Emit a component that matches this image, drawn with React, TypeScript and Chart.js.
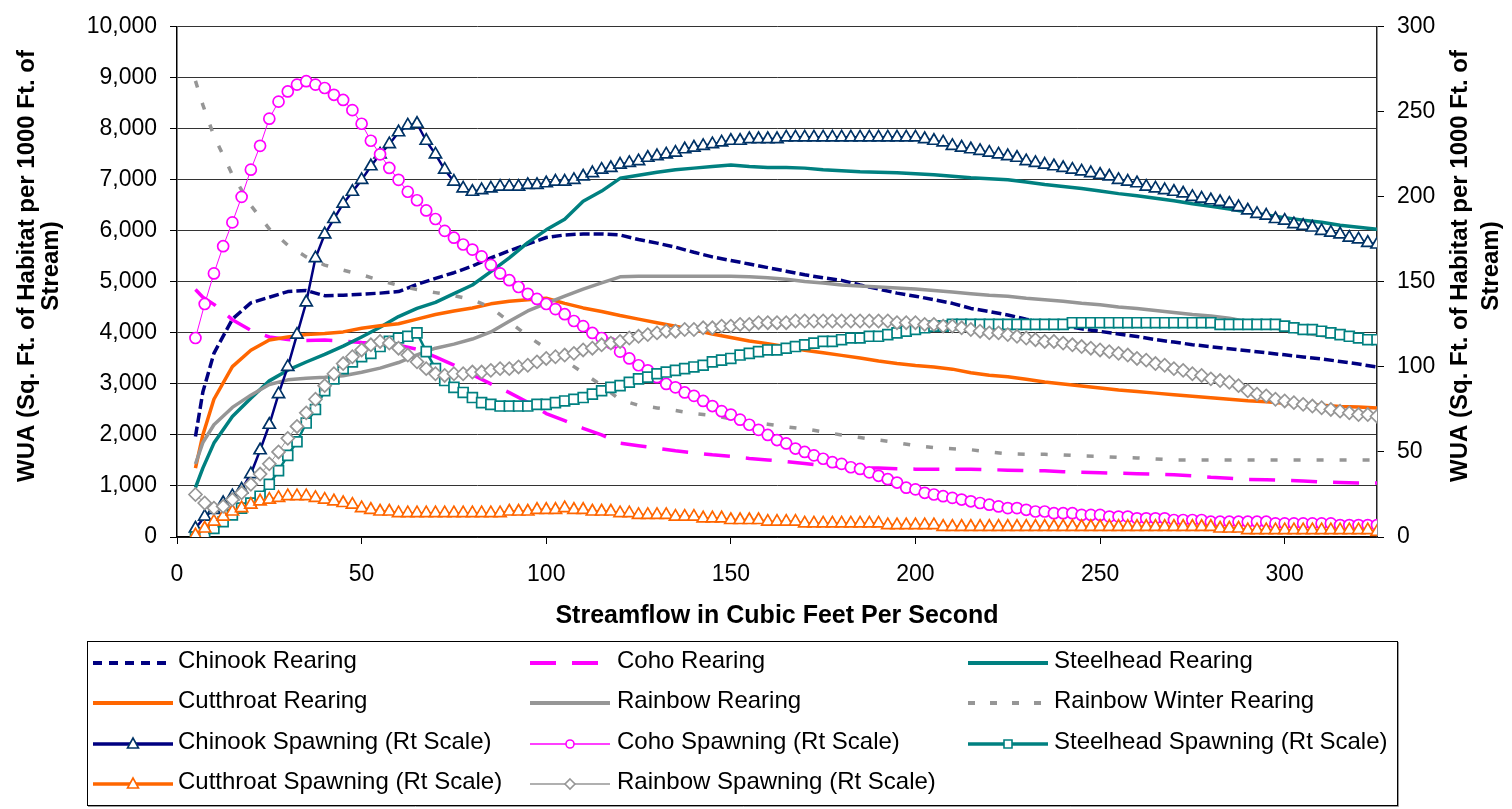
import React, { useEffect, useRef } from 'react';
import { Chart, registerables } from 'chart.js';

Chart.register(...registerables);

// ---------------- DATA ----------------
// Streamflow (cfs) for the rearing curves (left axis, WUA sq ft / 1000 ft)
const rearingFlows = [
  5, 7, 10, 15, 20, 25, 30, 35, 40, 45,
  50, 55, 60, 65, 70, 75, 80, 85, 90, 95,
  100, 105, 110, 115, 120, 125, 130, 135, 140, 145,
  150, 155, 160, 165, 170, 175, 180, 185, 190, 195,
  200, 205, 210, 215, 220, 225, 230, 235, 240, 245,
  250, 255, 260, 265, 270, 275, 280, 285, 290, 295,
  300, 305, 310, 315, 320, 325,
];

const chinookRearing = [
  1970, 2840, 3600, 4270, 4590, 4700, 4810, 4830, 4730, 4740,
  4760, 4780, 4810, 4950, 5070, 5180, 5310, 5470, 5610, 5740,
  5870, 5920, 5940, 5940, 5920, 5830, 5760, 5680, 5580, 5490,
  5420, 5350, 5280, 5210, 5140, 5080, 5030, 4940, 4860, 4780,
  4720, 4650, 4580, 4480, 4420, 4350, 4270, 4200, 4140, 4080,
  4030, 3980, 3930, 3870, 3820, 3770, 3730, 3690, 3650, 3610,
  3570, 3530, 3490, 3440, 3390, 3330,
];

const cohoRearing = [
  4850, 4700, 4560, 4260, 4050, 3920, 3870, 3850, 3860, 3840,
  3810, 3790, 3760, 3680, 3530, 3370, 3180, 3000, 2830, 2640,
  2420, 2280, 2130, 2000, 1840, 1790, 1740, 1690, 1650, 1610,
  1580, 1540, 1510, 1480, 1440, 1400, 1380, 1360, 1350, 1340,
  1330, 1330, 1330, 1330, 1320, 1310, 1300, 1300, 1280, 1270,
  1260, 1250, 1240, 1230, 1220, 1200, 1170, 1150, 1130, 1120,
  1110, 1100, 1080, 1070, 1060, 1060,
];

const steelheadRearing = [
  970, 1350, 1840, 2360, 2720, 3060, 3270, 3430, 3580, 3740,
  3920, 4110, 4320, 4480, 4600, 4770, 4940, 5200, 5470, 5770,
  6020, 6230, 6580, 6780, 7030, 7090, 7150, 7200, 7230, 7260,
  7290, 7260, 7240, 7240, 7230, 7200, 7180, 7160, 7150, 7140,
  7120, 7100, 7070, 7040, 7020, 7000, 6960, 6910, 6870, 6830,
  6780, 6730, 6690, 6640, 6590, 6530, 6480, 6430, 6370, 6310,
  6260, 6210, 6170, 6110, 6070, 6030,
];

const cutthroatRearing = [
  1350, 2000, 2700, 3340, 3660, 3860, 3920, 3970, 3990, 4020,
  4090, 4140, 4180, 4270, 4360, 4430, 4490, 4570, 4620, 4650,
  4680, 4580, 4490, 4420, 4340, 4270, 4200, 4130, 4060, 3980,
  3910, 3840, 3790, 3730, 3660, 3610, 3560, 3510, 3450, 3400,
  3360, 3330, 3290, 3220, 3170, 3140, 3090, 3040, 3000, 2960,
  2920, 2880, 2850, 2820, 2790, 2760, 2730, 2700, 2670, 2650,
  2620, 2600, 2580, 2560, 2550, 2530,
];

const rainbowRearing = [
  1430, 1850, 2200, 2540, 2780, 2990, 3080, 3110, 3130, 3160,
  3230, 3310, 3420, 3570, 3700, 3780, 3880, 4020, 4230, 4430,
  4580, 4720, 4860, 4980, 5100, 5110, 5110, 5110, 5110, 5110,
  5110, 5100, 5080, 5050, 5010, 4980, 4940, 4920, 4900, 4880,
  4860, 4830, 4800, 4770, 4740, 4720, 4680, 4650, 4620, 4580,
  4550, 4510, 4480, 4440, 4400, 4360, 4330, 4290, 4220, 4130,
  4060, 4000, 3950, 3910, 3880, 3850,
];

const rainbowWinterRearing = [
  8940, 8470, 7860, 7100, 6500, 6040, 5720, 5490, 5330, 5230,
  5140, 5030, 4930, 4850, 4790, 4730, 4650, 4500, 4220, 3940,
  3690, 3460, 3220, 2970, 2690, 2580, 2530, 2480, 2420, 2380,
  2320, 2260, 2210, 2160, 2120, 2060, 2000, 1950, 1900, 1850,
  1790, 1750, 1730, 1710, 1670, 1630, 1620, 1620, 1610, 1590,
  1580, 1560, 1550, 1530, 1510, 1510, 1510, 1510, 1510, 1510,
  1510, 1510, 1510, 1510, 1510, 1510,
];

// Streamflow (cfs) for the spawning curves (right axis)
const spawningFlows = [
  5, 7.5, 10, 12.5, 15, 17.5, 20, 22.5, 25, 27.5,
  30, 32.5, 35, 37.5, 40, 42.5, 45, 47.5, 50, 52.5,
  55, 57.5, 60, 62.5, 65, 67.5, 70, 72.5, 75, 77.5,
  80, 82.5, 85, 87.5, 90, 92.5, 95, 97.5, 100, 102.5,
  105, 107.5, 110, 112.5, 115, 117.5, 120, 122.5, 125, 127.5,
  130, 132.5, 135, 137.5, 140, 142.5, 145, 147.5, 150, 152.5,
  155, 157.5, 160, 162.5, 165, 167.5, 170, 172.5, 175, 177.5,
  180, 182.5, 185, 187.5, 190, 192.5, 195, 197.5, 200, 202.5,
  205, 207.5, 210, 212.5, 215, 217.5, 220, 222.5, 225, 227.5,
  230, 232.5, 235, 237.5, 240, 242.5, 245, 247.5, 250, 252.5,
  255, 257.5, 260, 262.5, 265, 267.5, 270, 272.5, 275, 277.5,
  280, 282.5, 285, 287.5, 290, 292.5, 295, 297.5, 300, 302.5,
  305, 307.5, 310, 312.5, 315, 317.5, 320, 322.5, 325,
];

const chinookSpawning = [
  5, 12, 16, 20, 24, 28, 37, 51, 66, 84,
  100, 119, 138, 164, 178, 187, 196, 203, 210, 218,
  225, 231, 238, 242, 243, 233, 225, 216, 209, 205,
  203, 204, 205, 206, 206, 206, 207, 207, 208, 209,
  209, 210, 212, 214, 216, 217, 219, 220, 221, 223,
  224, 225, 226, 228, 229, 230, 231, 232, 233, 233,
  234, 234, 234, 234, 235, 235, 235, 235, 235, 235,
  235, 235, 235, 235, 235, 235, 235, 235, 235, 234,
  233, 232, 230, 229, 228, 227, 226, 225, 224, 223,
  221, 220, 219, 218, 217, 216, 215, 214, 213, 212,
  210, 209, 208, 206, 205, 204, 203, 202, 200, 199,
  198, 197, 196, 194, 192, 190, 189, 187, 186, 184,
  183, 182, 180, 179, 178, 176, 175, 173, 172,
];

const cohoSpawning = [
  117, 137, 155, 171, 185, 200, 216, 230, 246, 256,
  262, 266, 268, 266, 264, 260, 257, 251, 243, 233,
  225, 217, 210, 203, 198, 192, 187, 180, 176, 172,
  169, 165, 160, 155, 151, 147, 143, 140, 137, 134,
  131, 127, 124, 120, 117, 114, 109, 105, 101, 98,
  94, 90, 88, 85, 83, 80, 77, 74, 72, 69,
  66, 63, 60, 57, 55, 52, 50, 48, 46, 44,
  43, 41, 40, 38, 36, 34, 32, 29, 28, 26,
  25, 24, 23, 22, 21, 20, 19, 18, 17, 17,
  16, 15, 15, 14, 14, 14, 13, 13, 13, 12,
  12, 12, 11, 11, 11, 11, 10, 10, 10, 10,
  9, 9, 9, 9, 9, 9, 9, 8, 8, 8,
  8, 8, 8, 8, 7, 7, 7, 7, 7,
];

const steelheadSpawning = [
  0, 2, 5, 9, 13, 17, 20, 24, 31, 39,
  48, 56, 67, 75, 86, 93, 99, 103, 106, 108,
  112, 115, 117, 118, 120, 109, 99, 92, 88, 85,
  82, 79, 78, 77, 77, 77, 77, 78, 78, 79,
  80, 81, 82, 84, 86, 88, 89, 91, 93, 94,
  96, 97, 98, 99, 100, 101, 103, 104, 105, 107,
  108, 109, 110, 110, 111, 112, 113, 114, 115, 115,
  116, 117, 117, 118, 118, 119, 120, 121, 122, 123,
  124, 124, 125, 125, 125, 125, 125, 125, 125, 125,
  125, 125, 125, 125, 125, 126, 126, 126, 126, 126,
  126, 126, 126, 126, 126, 126, 126, 126, 126, 126,
  126, 125, 125, 125, 125, 125, 125, 125, 124, 123,
  122, 122, 121, 120, 119, 118, 117, 116, 116,
];

const cutthroatSpawning = [
  1, 5, 9, 12, 15, 17, 19, 21, 22, 23,
  24, 24, 24, 23, 22, 21, 20, 19, 17, 16,
  15, 15, 14, 14, 14, 14, 14, 14, 14, 14,
  14, 14, 14, 14, 15, 15, 15, 16, 16, 16,
  17, 16, 16, 15, 15, 15, 14, 14, 13, 13,
  13, 13, 12, 12, 12, 11, 11, 11, 10, 10,
  10, 10, 9, 9, 9, 9, 8, 8, 8, 8,
  8, 8, 8, 8, 8, 7, 7, 7, 7, 7,
  7, 6, 6, 6, 6, 6, 6, 6, 6, 6,
  6, 6, 6, 6, 6, 6, 6, 6, 6, 6,
  6, 6, 6, 6, 6, 6, 6, 6, 6, 6,
  6, 5, 5, 5, 4, 4, 4, 4, 4, 4,
  4, 4, 4, 4, 4, 4, 4, 4, 3,
];

const rainbowSpawning = [
  25, 20, 17, 18, 22, 26, 31, 37, 43, 50,
  58, 65, 73, 81, 89, 96, 102, 106, 110, 113,
  115, 114, 111, 107, 103, 99, 96, 95, 96, 96,
  97, 97, 98, 99, 99, 100, 101, 103, 105, 106,
  107, 108, 110, 111, 113, 114, 115, 117, 118, 119,
  120, 121, 121, 122, 122, 123, 123, 124, 124, 125,
  125, 126, 126, 126, 126, 127, 127, 127, 127, 127,
  127, 127, 127, 127, 127, 127, 126, 126, 126, 125,
  125, 124, 124, 123, 122, 121, 120, 120, 119, 118,
  117, 116, 115, 115, 114, 113, 112, 111, 110, 109,
  108, 107, 105, 104, 102, 101, 99, 98, 96, 95,
  93, 92, 91, 89, 86, 84, 83, 81, 80, 79,
  78, 77, 76, 75, 74, 73, 72, 72, 71,
];

const xTickValues = [0, 50, 100, 150, 200, 250, 300];
const xTitle = 'Streamflow in Cubic Feet Per Second';
const yTitleLines = ['WUA (Sq. Ft. of Habitat per 1000 Ft. of', 'Stream)'];

// ---------------- STYLE ----------------
const FONT = "'Liberation Sans', Arial, Helvetica, sans-serif";
const NAVY = '#000080';
const NAVY_MARK = '#003366';
const MAGENTA = '#FF00FF';
const TEAL = '#008080';
const ORANGE = '#FF6600';
const GRAY = '#969696';

type Series = {
  label: string;
  flows: number[];
  values: number[];
  axis: 'y' | 'y1';
  color: string;
  width: number;
  dash?: number[];
  legendDash?: number[];
  legendWidth: number;
  marker?: 'triangle' | 'circle' | 'rect' | 'rectRot';
  markerColor?: string;
  markerSize?: number;
};

const series: Series[] = [
  { label: 'Chinook Rearing', flows: rearingFlows, values: chinookRearing, axis: 'y', color: NAVY, width: 3.5, dash: [10, 4], legendDash: [9, 7], legendWidth: 4 },
  { label: 'Coho Rearing', flows: rearingFlows, values: cohoRearing, axis: 'y', color: MAGENTA, width: 3.5, dash: [26, 16], legendDash: [26, 16], legendWidth: 4 },
  { label: 'Steelhead Rearing', flows: rearingFlows, values: steelheadRearing, axis: 'y', color: TEAL, width: 3.5, legendWidth: 4 },
  { label: 'Cutthroat Rearing', flows: rearingFlows, values: cutthroatRearing, axis: 'y', color: ORANGE, width: 3.5, legendWidth: 4 },
  { label: 'Rainbow Rearing', flows: rearingFlows, values: rainbowRearing, axis: 'y', color: GRAY, width: 3.5, legendWidth: 4 },
  { label: 'Rainbow Winter Rearing', flows: rearingFlows, values: rainbowWinterRearing, axis: 'y', color: GRAY, width: 3.5, dash: [7, 16], legendDash: [7, 15], legendWidth: 4 },
  { label: 'Chinook Spawning (Rt Scale)', flows: spawningFlows, values: chinookSpawning, axis: 'y1', color: NAVY, width: 2.5, legendWidth: 3.5, marker: 'triangle', markerColor: NAVY_MARK, markerSize: 7 },
  { label: 'Coho Spawning (Rt Scale)', flows: spawningFlows, values: cohoSpawning, axis: 'y1', color: MAGENTA, width: 1, legendWidth: 1.5, marker: 'circle', markerColor: MAGENTA, markerSize: 5.5 },
  { label: 'Steelhead Spawning (Rt Scale)', flows: spawningFlows, values: steelheadSpawning, axis: 'y1', color: TEAL, width: 2.5, legendWidth: 3.5, marker: 'rect', markerColor: TEAL, markerSize: 7 },
  { label: 'Cutthroat Spawning (Rt Scale)', flows: spawningFlows, values: cutthroatSpawning, axis: 'y1', color: ORANGE, width: 2.5, legendWidth: 3.5, marker: 'triangle', markerColor: ORANGE, markerSize: 7 },
  { label: 'Rainbow Spawning (Rt Scale)', flows: spawningFlows, values: rainbowSpawning, axis: 'y1', color: GRAY, width: 1, legendWidth: 1.5, marker: 'rectRot', markerColor: GRAY, markerSize: 6.5 },
];

const fmtThousands = (v: number) => String(v).replace(/\B(?=(\d{3})+(?!\d))/g, ',');

function drawMarker(ctx: CanvasRenderingContext2D, kind: string, x: number, y: number, stroke: string) {
  ctx.save();
  ctx.setLineDash([]);
  ctx.beginPath();
  if (kind === 'triangle') {
    ctx.moveTo(x, y - 6);
    ctx.lineTo(x + 5.5, y + 4);
    ctx.lineTo(x - 5.5, y + 4);
    ctx.closePath();
  } else if (kind === 'circle') {
    ctx.arc(x, y, 4, 0, Math.PI * 2);
  } else if (kind === 'rect') {
    ctx.rect(x - 4, y - 4, 8, 8);
  } else if (kind === 'rectRot') {
    ctx.moveTo(x, y - 5);
    ctx.lineTo(x + 5, y);
    ctx.lineTo(x, y + 5);
    ctx.lineTo(x - 5, y);
    ctx.closePath();
  }
  ctx.fillStyle = '#ffffff';
  ctx.fill();
  ctx.lineWidth = 1.6;
  ctx.strokeStyle = stroke;
  ctx.stroke();
  ctx.restore();
}

const customDecor = {
  id: 'customDecor',
  afterDraw(chart: any) {
    const ctx: CanvasRenderingContext2D = chart.ctx;
    ctx.save();
    // Y axis titles (both read bottom-to-top)
    ctx.font = `bold 24px ${FONT}`;
    ctx.fillStyle = '#000';
    ctx.textAlign = 'center';
    ctx.textBaseline = 'middle';
    const titleY = 266;
    const leftX = [27, 51.5];
    const rightX = [1460, 1491];
    [leftX, rightX].forEach((xs) => {
      yTitleLines.forEach((line, i) => {
        ctx.save();
        ctx.translate(xs[i], titleY);
        ctx.rotate(-Math.PI / 2);
        ctx.fillText(line, 0, 0);
        ctx.restore();
      });
    });

    // Legend box
    ctx.lineWidth = 1;
    ctx.strokeStyle = '#000';
    ctx.strokeRect(87.5, 641.5, 1310, 164);
    ctx.strokeStyle = '#9a9a9a';
    ctx.beginPath();
    ctx.moveTo(88, 806.5);
    ctx.lineTo(1398.5, 806.5);
    ctx.lineTo(1398.5, 642);
    ctx.stroke();

    const colSwatch = [93, 530, 968];
    const colText = [178, 617, 1054];
    const rowY = [661, 701, 742, 782];
    ctx.font = `24px ${FONT}`;
    ctx.textAlign = 'left';
    ctx.textBaseline = 'middle';
    series.forEach((s, i) => {
      const col = i % 3;
      const row = Math.floor(i / 3);
      const ly = rowY[row] + 2;
      const x0 = colSwatch[col];
      ctx.save();
      ctx.beginPath();
      ctx.setLineDash(s.legendDash || []);
      ctx.lineWidth = s.legendWidth;
      ctx.strokeStyle = s.color;
      ctx.lineCap = 'butt';
      ctx.moveTo(x0, ly);
      ctx.lineTo(x0 + 80, ly);
      ctx.stroke();
      ctx.restore();
      if (s.marker) drawMarker(ctx, s.marker, x0 + 40, ly, s.markerColor || s.color);
      ctx.fillStyle = '#000';
      ctx.fillText(s.label, colText[col], rowY[row]);
    });
    ctx.restore();
  },
};

export default function App() {
  const canvasRef = useRef<HTMLCanvasElement | null>(null);

  useEffect(() => {
    if (!canvasRef.current) return;
    document.body.style.margin = '0';
    const tickFont = { family: FONT, size: 23 };

    const datasets = series.map((s, i) => ({
      label: s.label,
      data: s.flows.map((x, j) => ({ x, y: s.values[j] })),
      yAxisID: s.axis,
      borderColor: s.color,
      borderWidth: s.width,
      borderDash: s.dash || [],
      borderCapStyle: 'butt',
      borderJoinStyle: 'round',
      fill: false,
      tension: 0,
      pointRadius: s.marker ? s.markerSize : 0,
      pointHoverRadius: s.marker ? s.markerSize : 0,
      pointStyle: s.marker || 'circle',
      pointBorderColor: s.markerColor || s.color,
      pointBackgroundColor: '#ffffff',
      pointBorderWidth: 1.7,
      order: 20 - i,
    }));

    const chart = new Chart(canvasRef.current, {
      type: 'line',
      data: { datasets } as any,
      options: {
        animation: false,
        responsive: false,
        devicePixelRatio: 1,
        events: [],
        layout: { padding: { top: 20, bottom: 172, left: 0, right: 0 } },
        plugins: {
          legend: { display: false },
          tooltip: { enabled: false },
          title: { display: false },
        },
        scales: {
          x: {
            type: 'linear',
            min: 0,
            max: 325,
            afterBuildTicks: (scale: any) => {
              scale.ticks = xTickValues.map((v) => ({ value: v }));
            },
            ticks: {
              stepSize: 50,
              font: tickFont,
              color: '#000',
              padding: 17,
              maxRotation: 0,
              autoSkip: false,
            },
            grid: { drawOnChartArea: false, drawTicks: true, tickLength: 7, color: '#000', lineWidth: 1 },
            border: { display: true, color: '#000', width: 1.5 },
            title: {
              display: true,
              text: xTitle,
              color: '#000',
              font: { family: FONT, size: 25, weight: 'bold' },
              padding: { top: 0, bottom: 6 },
            },
            afterFit: (scale: any) => {
              scale.height = 100;
            },
          },
          y: {
            type: 'linear',
            position: 'left',
            min: 0,
            max: 10000,
            ticks: {
              stepSize: 1000,
              font: tickFont,
              color: '#000',
              padding: 13,
              callback: (v: any) => fmtThousands(Number(v)),
            },
            grid: { color: '#333333', lineWidth: 1, tickLength: 7, tickColor: '#000' },
            border: { display: true, color: '#000', width: 1.5 },
            afterFit: (scale: any) => {
              scale.width = 177;
            },
          },
          y1: {
            type: 'linear',
            position: 'right',
            min: 0,
            max: 300,
            ticks: {
              stepSize: 50,
              font: tickFont,
              color: '#000',
              padding: 13,
            },
            grid: { drawOnChartArea: false, tickLength: 7, color: '#000', lineWidth: 1 },
            border: { display: true, color: '#222', width: 1.5 },
            afterFit: (scale: any) => {
              scale.width = 135;
            },
          },
        },
      } as any,
      plugins: [customDecor],
    });

    return () => {
      chart.destroy();
    };
  }, []);

  return (
    <div style={{ position: 'fixed', left: 0, top: 0, width: 1512, height: 809, background: '#fff' }}>
      <canvas ref={canvasRef} width={1512} height={809} style={{ display: 'block', width: 1512, height: 809 }} />
    </div>
  );
}
